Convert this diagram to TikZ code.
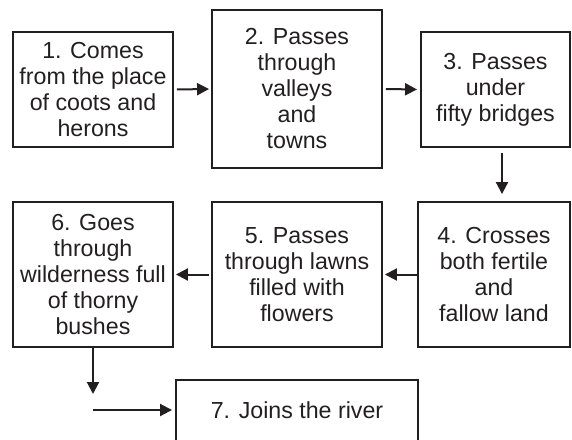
\documentclass[tikz,border=0pt]{standalone}
\usepackage{fontspec}
\setmainfont{Liberation Sans}
\usetikzlibrary{arrows.meta,calc}
\definecolor{ink}{HTML}{231F20}
\begin{document}
\begin{tikzpicture}[x=1pt,y=-1pt,
  box/.style={draw=ink,line width=1.9pt,inner sep=0pt,align=center,
    font=\fontsize{23.2}{26}\selectfont,text=ink},
  conn/.style={draw=ink,line width=2pt,-{Triangle[length=12pt,width=12pt]}}]
\useasboundingbox (0,0) rectangle (572,439);
\clip (0,0) rectangle (572,439);
\node[box,minimum width=160pt,minimum height=115pt] (b1) at (93,89.5)
  {1. Comes\\from the place\\of coots and\\herons};
\node[box,minimum width=170pt,minimum height=158pt] (b2) at (297,89)
  {2. Passes\\through\\valleys\\and\\towns};
\node[box,minimum width=149pt,minimum height=115pt] (b3) at (495.5,89.5)
  {3. Passes\\under\\fifty bridges};
\node[box,minimum width=152pt,minimum height=145pt] (b4) at (494,274.5)
  {4. Crosses\\both fertile\\and\\fallow land};
\node[box,minimum width=170pt,minimum height=145pt] (b5) at (297,274.5)
  {5. Passes\\through lawns\\filled with\\flowers};
\node[box,minimum width=160pt,minimum height=145pt] (b6) at (93,274.5)
  {6. Goes\\through\\wilderness full\\of thorny\\bushes};
\node[box,minimum width=242pt,minimum height=80pt,anchor=north] (b7) at (297,379) {};
\node[font=\fontsize{23.2}{26}\selectfont,text=ink] (t7) at (297,410) {7. Joins the river};
\coordinate (d6) at (93,394);
\coordinate (s7) at (93,410);
\draw[conn,shorten <=3pt,shorten >=2pt] (b1.east) -- (b2.west);
\draw[conn,shorten <=3pt,shorten >=3pt] (b2.east) -- (b3.west);
\draw[conn,shorten <=5pt,shorten >=7pt] ([xshift=6.5pt]b3.south) -- ([xshift=8pt]b4.north);
\draw[conn,shorten >=2pt] (b4.west) -- (b5.east);
\draw[conn,shorten <=2pt,shorten >=2pt] (b5.west) -- (b6.east);
\draw[conn] (b6.south) -- (d6);
\draw[conn,shorten >=3pt] (s7) -- (s7 -| b7.west);
\end{tikzpicture}
\end{document}
